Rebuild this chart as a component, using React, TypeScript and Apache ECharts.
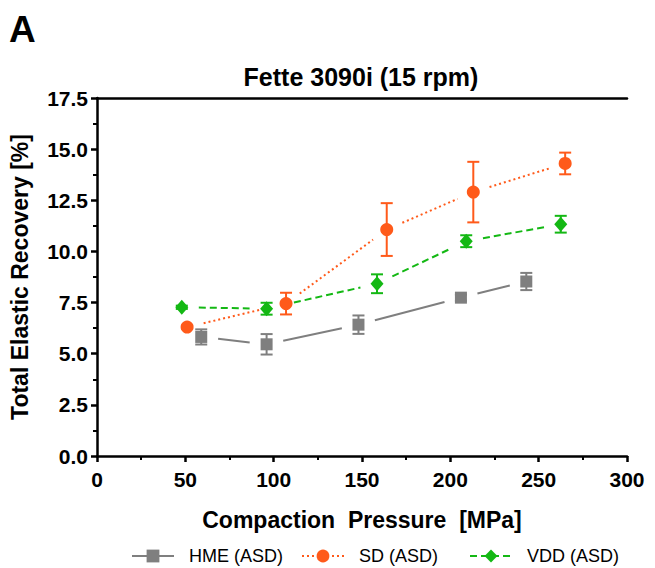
import React, { useEffect, useRef } from "react";
import * as echarts from "echarts";

const FONT = "'Liberation Sans', Arial, sans-serif";

const seriesNames = ["HME (ASD)", "SD (ASD)", "VDD (ASD)"];
const hmeX = [59, 96, 148, 206, 243];
const hmeY = [5.82, 5.46, 6.42, 7.74, 8.53];
const hmeErr = [0.37, 0.5, 0.45, 0.15, 0.42];
const sdX = [51, 107, 164, 213, 265];
const sdY = [6.3, 7.45, 11.07, 12.9, 14.3];
const sdErr = [0.08, 0.53, 1.29, 1.48, 0.53];
const vddX = [48, 96, 158.5, 209, 262.5];
const vddY = [7.27, 7.2, 8.42, 10.5, 11.33];
const vddErr = [0.08, 0.29, 0.46, 0.29, 0.41];
const yTicks = [0, 2.5, 5, 7.5, 10, 12.5, 15, 17.5];
const xTicks = [0, 50, 100, 150, 200, 250, 300];

const colors = ["#7f7f7f", "#ff5a1a", "#14b814"];
const symbols = ["rect", "circle", "diamond"];
const symbolSizes: any[] = [12, 13, [13, 15]];
const dashes: any[] = ["solid", [2, 3], [7, 4]];
const legendLefts = [126, 296, 464];

export default function App() {
  const ref = useRef<HTMLDivElement>(null);
  useEffect(() => {
    const chart = echarts.init(ref.current!, undefined, { renderer: "svg" });
    const groups = [
      { x: hmeX, y: hmeY, e: hmeErr },
      { x: sdX, y: sdY, e: sdErr },
      { x: vddX, y: vddY, e: vddErr },
    ];
    const series: any[] = [];
    groups.forEach((g, k) => {
      const segs = g.x.slice(0, -1).map((v, i) => [v, g.y[i], g.x[i + 1], g.y[i + 1]]);
      series.push({
        type: "custom",
        name: seriesNames[k] + "_seg",
        data: segs,
        encode: { x: [0, 2], y: [1, 3] },
        z: 2,
        silent: true,
        renderItem: (params: any, api: any) => {
          const p1 = api.coord([api.value(0), api.value(1)]);
          const p2 = api.coord([api.value(2), api.value(3)]);
          const dx = p2[0] - p1[0];
          const dy = p2[1] - p1[1];
          const len = Math.sqrt(dx * dx + dy * dy);
          const gap = 17;
          if (len < gap * 2 + 2) return null;
          const ux = dx / len, uy = dy / len;
          return {
            type: "line",
            shape: { x1: p1[0] + ux * gap, y1: p1[1] + uy * gap, x2: p2[0] - ux * gap, y2: p2[1] - uy * gap },
            style: { stroke: colors[k], lineWidth: 2, lineDash: dashes[k] === "solid" ? null : dashes[k], fill: null },
          };
        },
      });
      const errData = g.x.map((v, i) => [v, g.y[i] - g.e[i], g.y[i] + g.e[i]]);
      series.push({
        type: "custom",
        name: seriesNames[k] + "_err",
        data: errData,
        encode: { x: 0, y: [1, 2] },
        z: 3,
        silent: true,
        renderItem: (params: any, api: any) => {
          const lo = api.coord([api.value(0), api.value(1)]);
          const hi = api.coord([api.value(0), api.value(2)]);
          const w = 6;
          const st = { stroke: colors[k], lineWidth: 2, fill: null };
          return {
            type: "group",
            children: [
              { type: "line", shape: { x1: lo[0], y1: lo[1], x2: hi[0], y2: hi[1] }, style: st },
              { type: "line", shape: { x1: lo[0] - w, y1: lo[1], x2: lo[0] + w, y2: lo[1] }, style: st },
              { type: "line", shape: { x1: hi[0] - w, y1: hi[1], x2: hi[0] + w, y2: hi[1] }, style: st },
            ],
          };
        },
      });
      series.push({
        type: "line",
        name: seriesNames[k],
        data: g.x.map((v, i) => [v, g.y[i]]),
        symbol: symbols[k],
        symbolSize: symbolSizes[k],
        showAllSymbol: true,
        z: 4,
        itemStyle: { color: colors[k], opacity: 1 },
        lineStyle: { color: colors[k], width: 2, type: dashes[k], opacity: 0 },
      });
    });

    const axisLabelStyle = { fontFamily: FONT, fontWeight: "bold", fontSize: 21, color: "#000" };
    chart.setOption({
      animation: false,
      backgroundColor: "#fff",
      graphic: [
        { type: "text", left: 9, top: 11, style: { text: "A", font: `bold 37px ${FONT}`, fill: "#000" } },
        {
          type: "text",
          x: 361,
          y: 77,
          style: { text: "Fette 3090i (15 rpm)", font: `bold 25px ${FONT}`, fill: "#000", textAlign: "center", textVerticalAlign: "middle" },
        },
      ],
      grid: { left: 97, right: 28, top: 98, bottom: 112, containLabel: false },
      legend: seriesNames.map((n, k) => ({
        left: legendLefts[k],
        top: 542,
        itemWidth: 42,
        itemHeight: 16,
        formatter: (s: string) => "  " + s,
        textStyle: { fontFamily: FONT, fontSize: 18, color: "#000" },
        data: [{ name: n, lineStyle: { opacity: 1 } }],
      })),
      xAxis: [
        {
          type: "value",
          min: xTicks[0],
          max: xTicks[xTicks.length - 1],
          interval: 50,
          name: "Compaction  Pressure  [MPa]",
          nameLocation: "middle",
          nameGap: 52,
          nameTextStyle: { fontFamily: FONT, fontWeight: "bold", fontSize: 23, color: "#000" },
          axisLine: { show: true, onZero: false, lineStyle: { color: "#000", width: 2.5 } },
          axisTick: { show: true, length: 6, lineStyle: { color: "#000", width: 2.5 } },
          minorTick: { show: true, splitNumber: 2, length: 4, lineStyle: { color: "#000", width: 2 } },
          axisLabel: { ...axisLabelStyle, margin: 13 },
          splitLine: { show: false },
        },
        {
          type: "value",
          position: "top",
          min: 0,
          max: 300,
          axisLine: { show: true, onZero: false, lineStyle: { color: "#000", width: 2.5 } },
          axisTick: { show: false },
          axisLabel: { show: false },
          splitLine: { show: false },
        },
      ],
      yAxis: {
        type: "value",
        min: yTicks[0],
        max: yTicks[yTicks.length - 1],
        interval: 2.5,
        name: "Total Elastic Recovery [%]",
        nameLocation: "middle",
        nameGap: 66,
        nameTextStyle: { fontFamily: FONT, fontWeight: "bold", fontSize: 23, color: "#000" },
        axisLine: { show: true, onZero: false, lineStyle: { color: "#000", width: 2.5 } },
        axisTick: { show: true, length: 6, lineStyle: { color: "#000", width: 2.5 } },
        minorTick: { show: true, splitNumber: 2, length: 4, lineStyle: { color: "#000", width: 2 } },
        axisLabel: { ...axisLabelStyle, margin: 9, formatter: (v: number) => v.toFixed(1) },
        splitLine: { show: false },
      },
      series,
    });
    return () => chart.dispose();
  }, []);
  return <div ref={ref} style={{ position: "fixed", left: 0, top: 0, width: 655, height: 568 }} />;
}
